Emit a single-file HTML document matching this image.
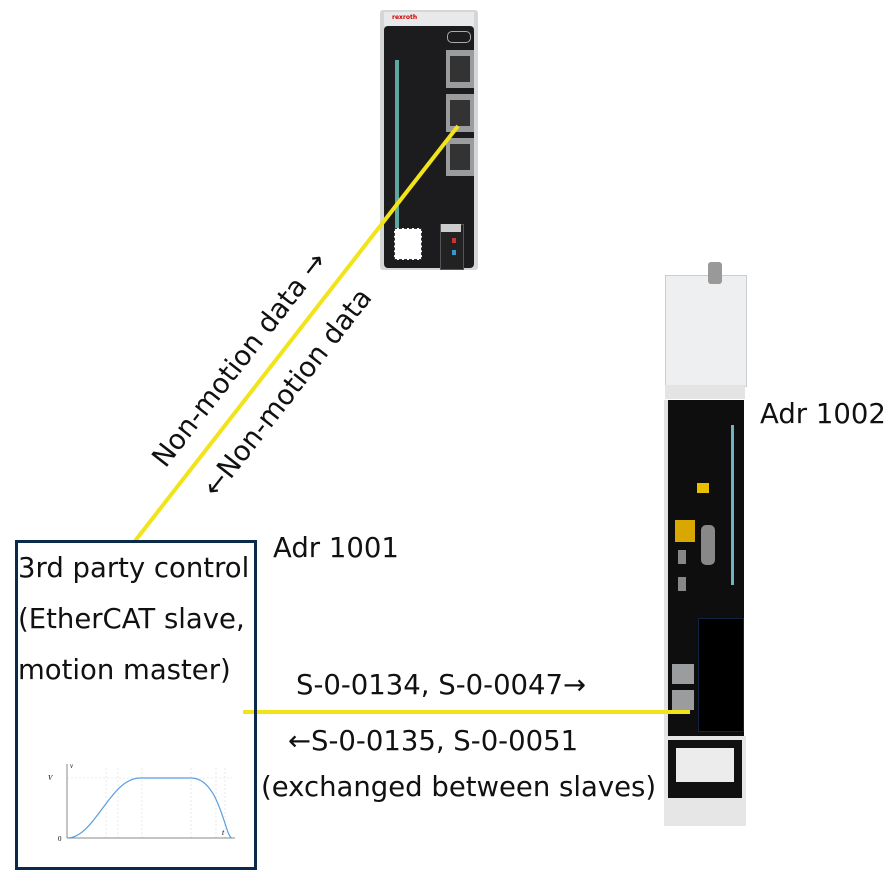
<!DOCTYPE html>
<html><head><meta charset="utf-8"><style>
body{margin:0;width:892px;height:885px;background:#fff;position:relative;overflow:hidden;font-family:"DejaVu Sans",sans-serif;color:#111}
.t{position:absolute;font-size:27.5px;white-space:nowrap;line-height:1}
.a{position:absolute}
</style></head><body>
<!-- top device ctrlX CORE -->
<div class="a" style="left:380px;top:10px;width:98px;height:260px;background:#d4d6d8;border-radius:3px"></div>
<div class="a" style="left:384px;top:26px;width:90px;height:242px;background:#1c1c1e;border-radius:4px"></div>
<div class="a" style="left:384px;top:12px;width:90px;height:14px;background:#e8e9ea"></div>
<div class="a" style="left:392px;top:14px;font-size:6px;color:#c00;font-weight:bold">rexroth</div>
<div class="a" style="left:395px;top:60px;width:4px;height:170px;background:#5fa8a0"></div>
<div class="a" style="left:447px;top:31px;width:22px;height:10px;border:1px solid #aaa;border-radius:5px"></div>
<div class="a" style="left:446px;top:50px;width:28px;height:38px;background:#9a9c9e"></div>
<div class="a" style="left:450px;top:56px;width:20px;height:26px;background:#333"></div>
<div class="a" style="left:446px;top:94px;width:28px;height:38px;background:#9a9c9e"></div>
<div class="a" style="left:450px;top:100px;width:20px;height:26px;background:#333"></div>
<div class="a" style="left:446px;top:138px;width:28px;height:38px;background:#9a9c9e"></div>
<div class="a" style="left:450px;top:144px;width:20px;height:26px;background:#333"></div>
<div class="a" style="left:394px;top:228px;width:26px;height:30px;background:#fff;border:1px dashed #333"></div>
<div class="a" style="left:440px;top:224px;width:22px;height:44px;background:#222;border:1px solid #555"></div>
<div class="a" style="left:441px;top:224px;width:20px;height:8px;background:#ccc"></div>
<div class="a" style="left:452px;top:238px;width:4px;height:5px;background:#c33"></div>
<div class="a" style="left:452px;top:250px;width:4px;height:5px;background:#39c"></div>
<!-- right device ctrlX DRIVE -->
<div class="a" style="left:665px;top:275px;width:80px;height:110px;background:#eeeff0;border:1px solid #ccc"></div>
<div class="a" style="left:708px;top:262px;width:14px;height:22px;background:#999;border-radius:3px"></div>
<div class="a" style="left:665px;top:385px;width:80px;height:14px;background:#e4e4e4"></div>
<div class="a" style="left:668px;top:400px;width:76px;height:336px;background:#0e0e0e"></div>
<div class="a" style="left:664px;top:400px;width:4px;height:336px;background:#e2e2e2"></div>
<div class="a" style="left:731px;top:425px;width:3px;height:160px;background:#6db3c0"></div>
<div class="a" style="left:697px;top:483px;width:12px;height:10px;background:#e8c000"></div>
<div class="a" style="left:675px;top:520px;width:20px;height:22px;background:#d8a800"></div>
<div class="a" style="left:701px;top:525px;width:14px;height:40px;background:#888;border-radius:5px"></div>
<div class="a" style="left:678px;top:550px;width:8px;height:14px;background:#888"></div>
<div class="a" style="left:678px;top:577px;width:8px;height:14px;background:#888"></div>
<div class="a" style="left:698px;top:618px;width:44px;height:112px;background:#000;border:1px solid #124"></div>
<div class="a" style="left:672px;top:664px;width:22px;height:20px;background:#9a9c9e"></div>
<div class="a" style="left:672px;top:690px;width:22px;height:20px;background:#9a9c9e"></div>
<div class="a" style="left:664px;top:736px;width:82px;height:90px;background:#e6e6e6"></div>
<div class="a" style="left:668px;top:740px;width:74px;height:58px;background:#111"></div>
<div class="a" style="left:676px;top:748px;width:58px;height:34px;background:#ececec"></div>
<div class="a" style="left:670px;top:788px;width:70px;height:10px;background:#111"></div>
<!-- yellow lines -->
<svg class="a" style="left:0;top:0" width="892" height="885">
<line x1="135" y1="541" x2="458" y2="126" stroke="#f2e41a" stroke-width="4"/>
<line x1="243" y1="712" x2="690" y2="712" stroke="#f2e41a" stroke-width="4"/>
</svg>
<!-- box -->
<div class="a" style="left:15px;top:540px;width:236px;height:324px;border:3px solid #0b2a4a"></div>
<svg class="a" style="left:40px;top:760px" width="200" height="85">
<g stroke="#ddd" stroke-dasharray="2,2" stroke-width="0.6">
<line x1="27" y1="18" x2="192" y2="18"/><line x1="66" y1="8" x2="66" y2="78"/><line x1="78" y1="8" x2="78" y2="78"/><line x1="102" y1="8" x2="102" y2="78"/><line x1="151" y1="8" x2="151" y2="78"/><line x1="176" y1="8" x2="176" y2="78"/><line x1="185" y1="8" x2="185" y2="78"/></g>
<line x1="27" y1="78" x2="195" y2="78" stroke="#888"/><line x1="27" y1="78" x2="27" y2="4" stroke="#888"/>
<path d="M27 78 C55 78,70 18,100 18 L151 18 C180 18,185 78,192 78" fill="none" stroke="#5a9ee0" stroke-width="1.2"/>
<text x="8" y="20" font-size="7" font-family="Liberation Serif" font-style="italic">V</text>
<text x="30" y="8" font-size="7" font-family="Liberation Serif" font-style="italic">v</text>
<text x="18" y="81" font-size="7" font-family="Liberation Serif">0</text>
<text x="182" y="75" font-size="8" font-family="Liberation Serif" font-style="italic">t</text>
</svg>
<div class="t" style="left:18px;top:555px">3rd party control</div>
<div class="t" style="left:18px;top:606px">(EtherCAT slave,</div>
<div class="t" style="left:18px;top:657px">motion master)</div>
<div class="t" style="left:273px;top:535px">Adr 1001</div>
<div class="t" style="left:760px;top:401px">Adr 1002</div>
<div class="t" style="left:296px;top:672px">S-0-0134, S-0-0047→</div>
<div class="t" style="left:288px;top:728px">←S-0-0135, S-0-0051</div>
<div class="t" style="left:261px;top:774px">(exchanged between slaves)</div>
<div class="t" style="left:240px;top:360px;transform:translate(-50%,-50%) rotate(-52deg)">Non-motion data →</div>
<div class="t" style="left:288px;top:393px;transform:translate(-50%,-50%) rotate(-52deg)">←Non-motion data</div>
</body></html>
